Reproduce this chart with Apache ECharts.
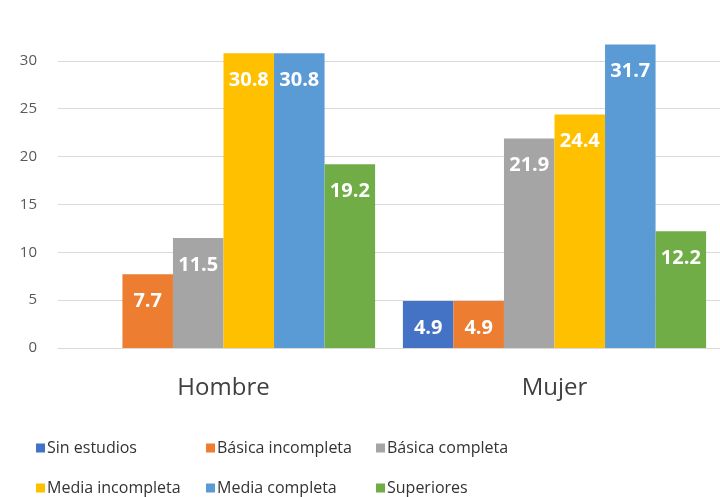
<!DOCTYPE html>
<html>
<head>
<meta charset="utf-8">
<script src="https://cdn.jsdelivr.net/npm/echarts@6/dist/echarts.min.js"></script>
<style>
  html, body { margin: 0; padding: 0; background: #fff; }
  #chart { width: 720px; height: 497px; }
</style>
</head>
<body>
<div id="chart"></div>
<script>
// categorias y series
const categories = ["Hombre", "Mujer"];
const seriesNames = [
  "Sin estudios",
  "Básica incompleta",
  "Básica completa",
  "Media incompleta",
  "Media completa",
  "Superiores",
];
const sinEstudios = [null, 4.9];
const basicaIncompleta = [7.7, 4.9];
const basicaCompleta = [11.5, 21.9];
const mediaIncompleta = [30.8, 24.4];
const mediaCompleta = [30.8, 31.7];
const superiores = [19.2, 12.2];

const colors = ["#4472C4", "#ED7D31", "#A5A5A5", "#FFC000", "#5B9BD5", "#70AD47"];
const values = [sinEstudios, basicaIncompleta, basicaCompleta, mediaIncompleta, mediaCompleta, superiores];

const font = "'Open Sans', 'Liberation Sans', sans-serif";
let myChart = echarts.init(document.getElementById("chart"));

let option = {
  color: colors,
  animation: false,
  textStyle: { fontFamily: font },
  grid: {
    left: 58,
    right: -5,
    top: 13,
    bottom: 149,
    containLabel: false,
  },
  legend: {
    left: 31,
    top: 423,
    width: 540,
    itemWidth: 9,
    itemHeight: 9,
    itemGap: 0,
    icon: "rect",
    data: seriesNames,
    textStyle: {
      fontFamily: font,
      fontSize: 16,
      color: "#333",
      width: 159,
      lineHeight: 40,
      padding: [0, 0, 0, -3],
    },
  },
  xAxis: {
    type: "category",
    data: categories,
    axisLine: { lineStyle: { color: "#d9d9d9" } },
    axisTick: { show: false },
    axisLabel: {
      fontSize: 24,
      color: "#404040",
      margin: 28,
      fontFamily: font,
    },
  },
  yAxis: {
    type: "value",
    min: 0,
    max: 35,
    interval: 5,
    axisLine: { show: false },
    axisTick: { show: false },
    axisLabel: {
      fontSize: 15,
      color: "#595959",
      margin: 21,
      showMaxLabel: false,
      fontFamily: font,
    },
    splitLine: {
      showMaxLine: false,
      lineStyle: { color: "#d9d9d9", width: 1 },
    },
  },
  series: seriesNames.map((name, i) => ({
    name: name,
    type: "bar",
    data: values[i],
    barGap: "0%",
    barCategoryGap: "8.4%",
    label: {
      show: true,
      position: "insideTop",
      distance: 17,
      color: "#fff",
      fontWeight: "bold",
      fontSize: 20,
      fontFamily: font,
    },
  })),
};

option && myChart.setOption(option);
</script>
</body>
</html>
